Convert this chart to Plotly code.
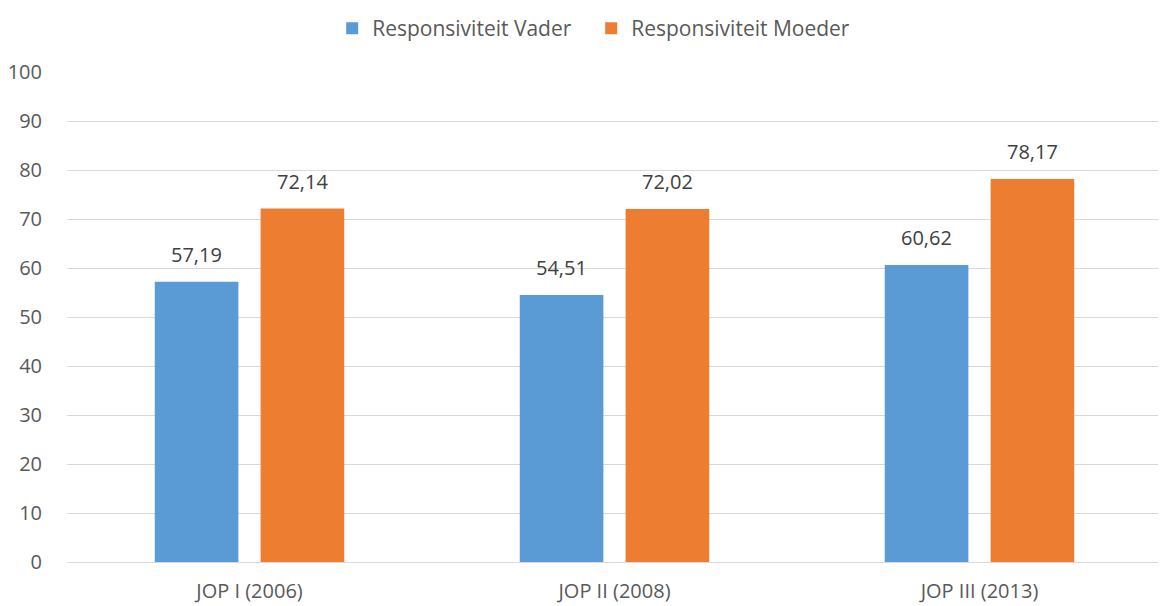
import plotly.graph_objects as go

categories = ["JOP I (2006)", "JOP II (2008)", "JOP III (2013)"]
vader = [57.19, 54.51, 60.62]
moeder = [72.14, 72.02, 78.17]
series_names = ["Responsiviteit Vader", "Responsiviteit Moeder"]
y_ticks = [0, 10, 20, 30, 40, 50, 60, 70, 80, 90, 100]

def fmt(v):
    return f"{v:.2f}".replace(".", ",")

font_family = "Open Sans, Liberation Sans, sans-serif"

W, H = 1158, 598
ML, MR, MT, MB = 59, 4, 64, 44
BARGAP, GROUPGAP = 0.42, 0.21

fig = go.Figure()
fig.add_trace(go.Bar(x=categories, y=vader, name=series_names[0],
                     marker=dict(color="#5B9BD5", line=dict(width=0))))
fig.add_trace(go.Bar(x=categories, y=moeder, name=series_names[1],
                     marker=dict(color="#ED7D31", line=dict(width=0))))

# data labels, placed at each bar's category/value with a group offset
cat_px = (W - ML - MR) / len(categories)
slot_px = cat_px * (1 - BARGAP) / 2
annotations = []
for series, sign in ((vader, -1), (moeder, 1)):
    for c, v in zip(categories, series):
        annotations.append(dict(
            x=c, y=v, xref="x", yref="y", text=fmt(v), showarrow=False,
            xanchor="center", yanchor="bottom", xshift=sign * slot_px / 2, yshift=12,
            font=dict(size=20, color="#404040", family=font_family),
        ))

plot_h = H - MT - MB
fig.update_layout(
    width=W, height=H,
    margin=dict(l=ML, r=MR, t=MT, b=MB, autoexpand=False),
    paper_bgcolor="white", plot_bgcolor="white",
    barmode="group", bargap=BARGAP, bargroupgap=GROUPGAP,
    font=dict(family=font_family, color="#595959", size=20),
    annotations=annotations,
    legend=dict(orientation="h", x=0.4787, xanchor="center",
                y=1 + MT / plot_h, yanchor="top",
                font=dict(size=21, color="#595959"), itemwidth=30,
                entrywidth=214, entrywidthmode="pixels",
                traceorder="normal"),
    xaxis=dict(showgrid=False, showline=False, ticks="", automargin=False,
               tickfont=dict(size=20, color="#595959"), ticklabelstandoff=15),
    yaxis=dict(range=[0, 100], tickvals=y_ticks, showgrid=True, gridcolor="#D9D9D9",
               gridwidth=1, zeroline=True, zerolinecolor="#D9D9D9", zerolinewidth=1,
               showline=False, ticks="", automargin=False,
               tickfont=dict(size=20, color="#595959"),
               ticklabelstandoff=24),
    showlegend=True,
)

fig.write_html("out.html")
